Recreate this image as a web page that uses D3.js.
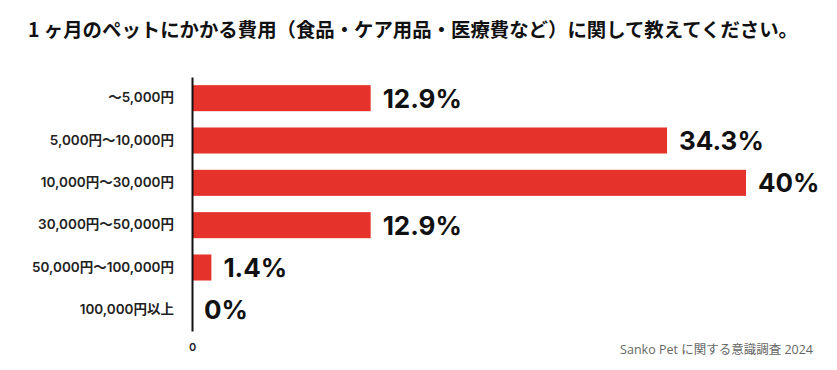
<!DOCTYPE html>
<html>
<head>
<meta charset="utf-8">
<script src="https://cdn.jsdelivr.net/npm/d3@7"></script>
<style>
  body { margin: 0; background: #fff; }
  svg { display: block; font-family: Inter, "Noto Sans CJK JP", sans-serif; }
</style>
</head>
<body>
<div id="container"></div>
<script>
const title = "1 ヶ月のペットにかかる費用（食品・ケア用品・医療費など）に関して教えてください。";
const source = "Sanko Pet に関する意識調査 2024";

const categories = [
  "〜5,000円",
  "5,000円〜10,000円",
  "10,000円〜30,000円",
  "30,000円〜50,000円",
  "50,000円〜100,000円",
  "100,000円以上"
];
const values = [12.9, 34.3, 40, 12.9, 1.4, 0];
const xTicks = [0];

const width = 837;
const height = 370;
const barColor = "#e5322a";

const svg = d3
  .select("#container")
  .append("svg")
  .attr("width", width)
  .attr("height", height);

// title
svg
  .append("text")
  .attr("x", 28)
  .attr("y", 37)
  .attr("font-family", "'Noto Sans CJK JP', sans-serif")
  .attr("font-weight", 700)
  .attr("font-size", 19.4)
  .attr("fill", "#111")
  .text(title);

const x = d3.scaleLinear().domain([0, 40]).range([192, 746]);

const y = d3
  .scaleBand()
  .domain(categories)
  .range([77, 331])
  .paddingInner(0.385)
  .paddingOuter(0.1925);

// bars
svg
  .append("g")
  .selectAll("rect")
  .data(values)
  .enter()
  .append("rect")
  .attr("x", x(0))
  .attr("y", (d, i) => y(categories[i]))
  .attr("width", (d) => x(d) - x(0))
  .attr("height", y.bandwidth())
  .attr("fill", barColor);

// value labels
svg
  .append("g")
  .selectAll("text")
  .data(values)
  .enter()
  .append("text")
  .attr("x", (d) => x(d) + 12)
  .attr("y", (d, i) => y(categories[i]) + y.bandwidth() / 2)
  .attr("dy", "0.36em")
  .attr("font-weight", 700)
  .attr("font-size", 26)
  .attr("fill", "#111")
  .text((d) => d + "%");

// category axis
const yAxis = svg
  .append("g")
  .attr("transform", `translate(${x(0)},0)`)
  .call(d3.axisLeft(y).tickSize(0).tickSizeOuter(0).tickPadding(18));

yAxis.select(".domain").attr("stroke", "#111").attr("stroke-width", 2);
yAxis
  .selectAll("text")
  .attr("font-family", "Inter, 'Noto Sans CJK JP', sans-serif")
  .attr("font-weight", 600)
  .attr("font-size", 13.5)
  .attr("fill", "#222");

// bottom tick
const xAxis = svg
  .append("g")
  .attr("transform", "translate(0,341)")
  .call(d3.axisBottom(x).tickValues(xTicks).tickSize(0).tickPadding(2));

xAxis.select(".domain").remove();
xAxis
  .selectAll("text")
  .attr("font-family", "Inter, sans-serif")
  .attr("font-weight", 600)
  .attr("font-size", 11)
  .attr("fill", "#222");

// source note
svg
  .append("text")
  .attr("x", 813)
  .attr("y", 354)
  .attr("text-anchor", "end")
  .attr("font-family", "'Open Sans', 'Noto Sans CJK JP', sans-serif")
  .attr("font-size", 12.5)
  .attr("fill", "#666")
  .text(source);
</script>
</body>
</html>
